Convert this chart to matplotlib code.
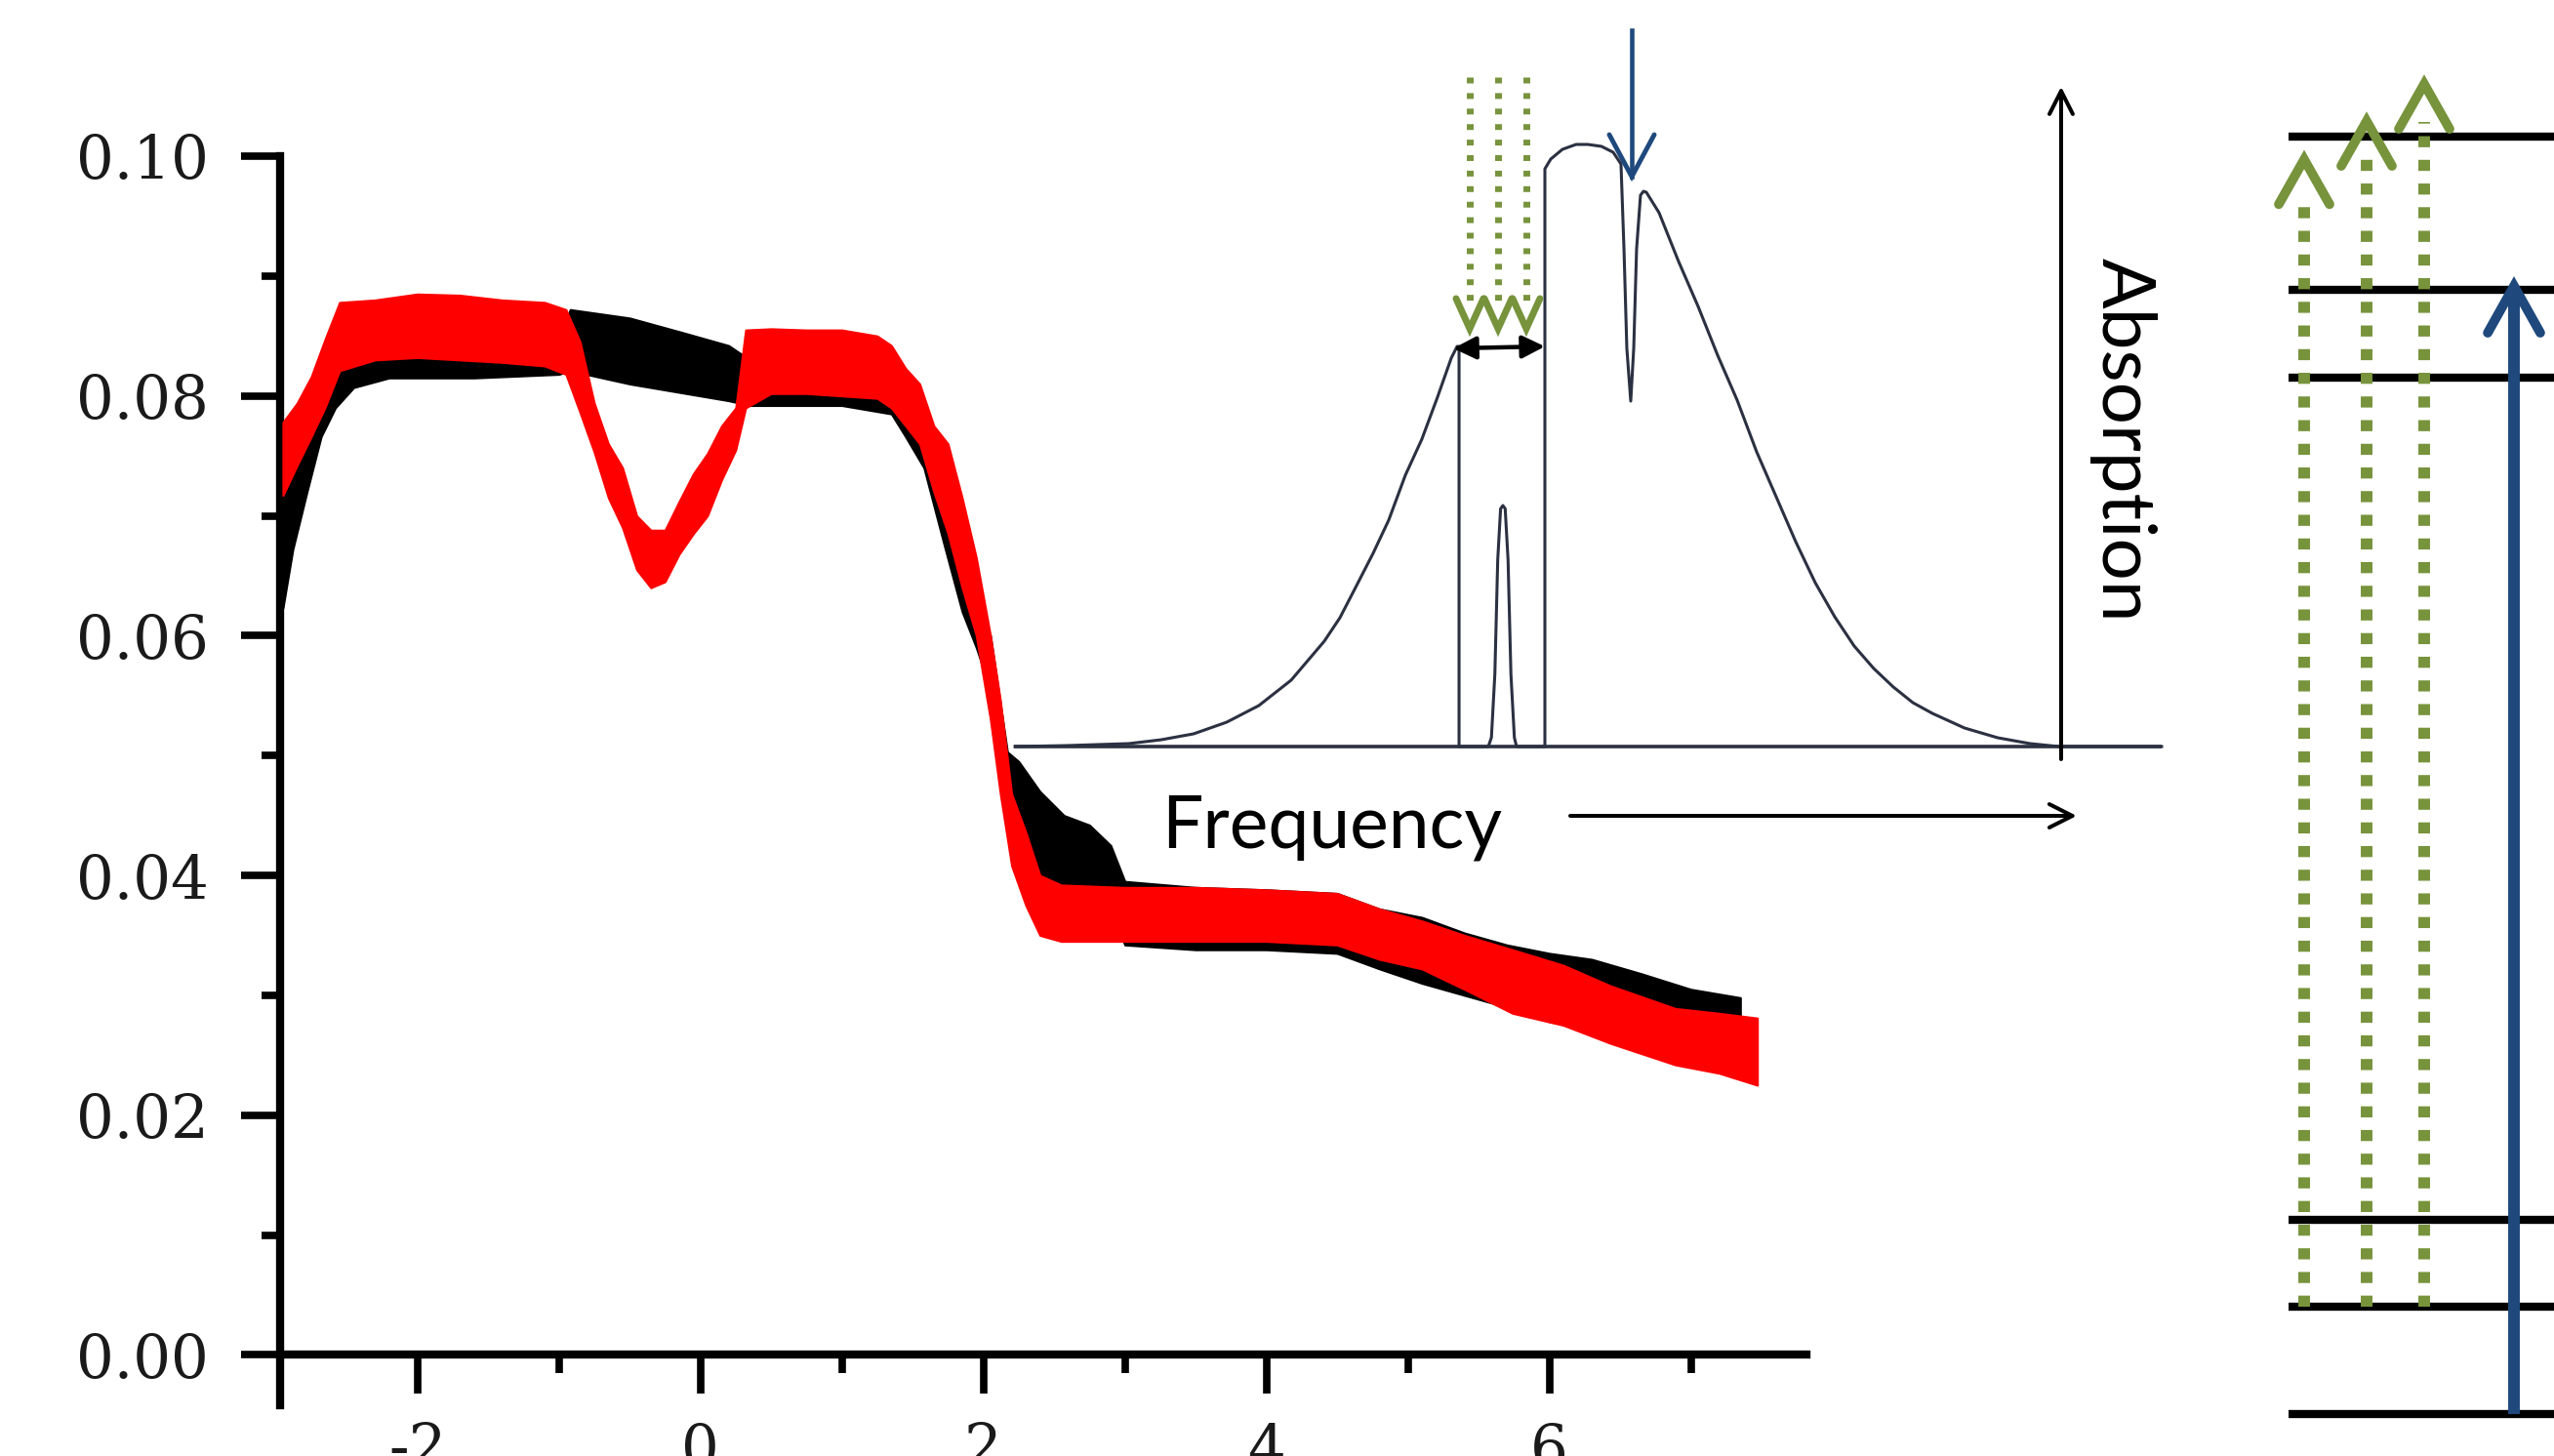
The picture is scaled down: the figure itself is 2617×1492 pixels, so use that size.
import numpy as np
import matplotlib.pyplot as plt
from matplotlib.ticker import FixedLocator

plt.rcParams['axes.unicode_minus'] = False

# ---- main transmission traces: lower / upper edge of each noisy band ----
black_x = [-2.95, -2.88, -2.78, -2.68, -2.58, -2.45, -2.20, -1.60, -1.00, -0.92,
           -0.50, -0.10, 0.20, 0.35, 1.00, 1.35, 1.45, 1.58, 1.72, 1.85,
           1.95, 2.05, 2.17, 2.25, 2.40, 2.57, 2.75, 2.90, 3.00, 3.50,
           4.00, 4.50, 4.80, 5.10, 5.40, 5.70, 6.00, 6.30, 6.65, 7.00, 7.35]
black_lo = [0.0623, 0.0672, 0.0720, 0.0766, 0.0790, 0.0807, 0.0815, 0.0815, 0.0818, 0.0821,
            0.0810, 0.0802, 0.0796, 0.0792, 0.0792, 0.0785, 0.0766, 0.0740, 0.0677, 0.0620,
            0.0590, 0.0555, 0.0480, 0.0445, 0.0400, 0.0392, 0.0390, 0.0370, 0.0342, 0.0338,
            0.0338, 0.0335, 0.0322, 0.0310, 0.0300, 0.0290, 0.0278, 0.0272, 0.0276, 0.0280, 0.0280]
black_hi = [0.0712, 0.0742, 0.0770, 0.0795, 0.0812, 0.0837, 0.0842, 0.0845, 0.0848, 0.0872,
            0.0865, 0.0852, 0.0842, 0.0830, 0.0825, 0.0820, 0.0810, 0.0785, 0.0753, 0.0680,
            0.0630, 0.0600, 0.0503, 0.0495, 0.0470, 0.0450, 0.0442, 0.0425, 0.0395, 0.0390,
            0.0388, 0.0385, 0.0372, 0.0365, 0.0352, 0.0342, 0.0335, 0.0330, 0.0318, 0.0305, 0.0298]

red_x = [-2.95, -2.85, -2.75, -2.65, -2.55, -2.30, -2.00, -1.70, -1.40, -1.10,
         -0.95, -0.85, -0.75, -0.65, -0.55, -0.45, -0.35, -0.25, -0.15, -0.05,
         0.05, 0.15, 0.25, 0.32, 0.50, 0.75, 1.00, 1.25, 1.35, 1.45,
         1.55, 1.65, 1.75, 1.85, 1.95, 2.05, 2.12, 2.20, 2.30, 2.40,
         2.55, 3.00, 3.50, 4.00, 4.50, 4.80, 5.10, 5.40, 5.74, 6.10,
         6.43, 6.89, 7.20, 7.47]
red_lo = [0.0717, 0.0742, 0.0766, 0.0791, 0.0821, 0.0830, 0.0832, 0.0830, 0.0828, 0.0825,
          0.0818, 0.0786, 0.0753, 0.0715, 0.0690, 0.0655, 0.0640, 0.0645, 0.0668, 0.0685,
          0.0700, 0.0730, 0.0755, 0.0790, 0.0802, 0.0802, 0.0800, 0.0798, 0.0790, 0.0775,
          0.0760, 0.0720, 0.0685, 0.0640, 0.0600, 0.0530, 0.0468, 0.0408, 0.0375, 0.0350,
          0.0345, 0.0345, 0.0345, 0.0345, 0.0342, 0.0330, 0.0322, 0.0305, 0.0285, 0.0275,
          0.0260, 0.0242, 0.0235, 0.0225]
red_hi = [0.0778, 0.0794, 0.0816, 0.0848, 0.0878, 0.0880, 0.0885, 0.0884, 0.0880, 0.0878,
          0.0872, 0.0845, 0.0794, 0.0760, 0.0740, 0.0700, 0.0688, 0.0688, 0.0712, 0.0735,
          0.0752, 0.0775, 0.0790, 0.0855, 0.0856, 0.0855, 0.0855, 0.0850, 0.0842, 0.0823,
          0.0810, 0.0775, 0.0760, 0.0715, 0.0665, 0.0600, 0.0546, 0.0468, 0.0436, 0.0400,
          0.0392, 0.0390, 0.0390, 0.0388, 0.0385, 0.0372, 0.0362, 0.0350, 0.0338, 0.0325,
          0.0308, 0.0289, 0.0285, 0.0281]

x_major = [-2, 0, 2, 4, 6]
x_minor = [-1, 1, 3, 5, 7]
y_major = [0.00, 0.02, 0.04, 0.06, 0.08, 0.10]
y_minor = [0.01, 0.03, 0.05, 0.07, 0.09]
y_labels = ['0.00', '0.02', '0.04', '0.06', '0.08', '0.10']

# ---- inset: absorption profile with burnt holes (arbitrary units) ----
profile_f = [0.0009, 0.0459, 0.1003, 0.1284, 0.1565, 0.1854, 0.2134, 0.2415, 0.2704, 0.2840,
             0.2985, 0.3129, 0.3265, 0.3410, 0.3554, 0.3690, 0.3810, 0.3861, 0.3878, 0.3878,
             0.4133, 0.4160, 0.4190, 0.4215, 0.4240, 0.4260, 0.4280, 0.4305, 0.4330, 0.4360,
             0.4379, 0.4626, 0.4626, 0.4677, 0.4779, 0.4898, 0.5000, 0.5119, 0.5221, 0.5289,
             0.5315, 0.5340, 0.5374, 0.5400, 0.5425, 0.5459, 0.5485, 0.5510, 0.5621, 0.5791,
             0.5961, 0.6131, 0.6301, 0.6471, 0.6641, 0.6811, 0.6981, 0.7151, 0.7321, 0.7491,
             0.7662, 0.7832, 0.8002, 0.8282, 0.8571, 0.8852, 0.9107, 1.0]
profile_a = [0.0, 0.0016, 0.0049, 0.0113, 0.0211, 0.0405, 0.0681, 0.1102, 0.1750, 0.2139,
             0.2674, 0.3209, 0.3760, 0.4506, 0.5105, 0.5802, 0.6451, 0.6645, 0.6645, 0.0,
             0.0, 0.0150, 0.1200, 0.3100, 0.3950, 0.4003, 0.3950, 0.3100, 0.1200, 0.0150,
             0.0, 0.0, 0.9595, 0.9757, 0.9919, 1.0, 1.0, 0.9968, 0.9870, 0.9676,
             0.8266, 0.6613, 0.5737, 0.6613, 0.8266, 0.9157, 0.9222, 0.9206, 0.8865, 0.8055,
             0.7310, 0.6499, 0.5754, 0.4895, 0.4149, 0.3404, 0.2723, 0.2156, 0.1669, 0.1297,
             0.0989, 0.0729, 0.0551, 0.0308, 0.0146, 0.0049, 0.0, 0.0]
burn_f = [0.3971, 0.4218, 0.4464]      # green burning lasers
burn_from, burn_to = 1.112, 0.694
probe_f, probe_from, probe_to = 0.5383, 1.19, 0.9465
gap_f = [0.3828, 0.4626]
gap_a = [0.6613, 0.6645]
absorb_axis_f, absorb_axis_a = 0.9124, [-0.021, 1.096]
freq_axis_f, freq_axis_a = [0.4847, 0.9260], -0.1151

# ---- energy level diagram ----
levels = [0.0, 0.84, 1.52, 8.11, 8.80, 10.0]
green_x = [0.0588, 0.2941, 0.5110]
green_from = 0.84
green_tip = [9.82, 10.12, 10.41]
blue_x, blue_from, blue_tip = 0.8493, 0.0, 8.83

GREEN = '#77933C'
BLUE = '#1F497D'
W, H = 2617, 1492

fig = plt.figure(figsize=(W / 100, H / 100), dpi=100)

# main plot
ax = fig.add_axes([287 / W, 1 - 1440 / H, (1851 - 287) / W, (1440 - 160) / H])
ax.fill_between(black_x, black_lo, black_hi, color='black', lw=1.5, zorder=2)
ax.fill_between(red_x, red_lo, red_hi, color='#ff0000', lw=1.5, zorder=3)
ax.set_xlim(-2.97, 7.817)
ax.set_ylim(-0.0042, 0.10)
for s in ['top', 'right']:
    ax.spines[s].set_visible(False)
ax.spines['bottom'].set_position(('data', 0))
ax.spines['bottom'].set_linewidth(6)
ax.spines['left'].set_linewidth(6)
ax.xaxis.set_major_locator(FixedLocator(x_major))
ax.xaxis.set_minor_locator(FixedLocator(x_minor))
ax.yaxis.set_major_locator(FixedLocator(y_major))
ax.yaxis.set_minor_locator(FixedLocator(y_minor))
ax.set_yticklabels(y_labels)
ax.tick_params(which='major', direction='out', length=29, width=5.5)
ax.tick_params(which='minor', direction='out', length=14, width=5.5)
ax.tick_params(axis='y', which='major', pad=24)
ax.tick_params(axis='x', which='major', pad=20)
for lab in ax.get_xticklabels() + ax.get_yticklabels():
    lab.set_fontfamily('DejaVu Serif')
    lab.set_fontsize(44)
    lab.set_color('#1a1a1a')
ax.patch.set_visible(False)

# inset
ins = fig.add_axes([1000 / W, 1 - 880 / H, 1300 / W, 880 / H])
ins.set_xlim(-0.03316, 1.0723)
ins.set_ylim(-0.1864, 1.2399)
ins.axis('off')
ins.plot([0, 1], [0, 0], color='#2b3141', lw=2.6, solid_capstyle='butt')
ins.plot(profile_f, profile_a, color='#2b3141', lw=2.2)
ghw, ghh = 0.0119, 0.050
for f in burn_f:
    ins.plot([f, f], [burn_from, burn_to + ghh * 0.9], color=GREEN, lw=5,
             dashes=(0.86, 1.43), solid_capstyle='butt')
    ins.plot([f - ghw, f, f + ghw], [burn_to + ghh, burn_to, burn_to + ghh],
             color=GREEN, lw=5, solid_capstyle='round', solid_joinstyle='miter')
ins.plot([probe_f, probe_f], [probe_from, probe_to], color=BLUE, lw=3.3)
ins.plot([probe_f - 0.0196, probe_f, probe_f + 0.0196],
         [probe_to + 0.0697, probe_to, probe_to + 0.0697],
         color=BLUE, lw=3.5, solid_capstyle='round', solid_joinstyle='miter')
ins.annotate('', xy=(gap_f[1], gap_a[1]), xytext=(gap_f[0], gap_a[0]),
             arrowprops=dict(arrowstyle='<|-|>, head_length=14, head_width=7',
                             mutation_scale=1, lw=3.2, color='black',
                             shrinkA=0, shrinkB=0))
ins.annotate('', xy=(absorb_axis_f, absorb_axis_a[1]),
             xytext=(absorb_axis_f, absorb_axis_a[0]),
             arrowprops=dict(arrowstyle='->, head_length=17, head_width=8.6',
                             mutation_scale=1, lw=2.9, color='black',
                             shrinkA=0, shrinkB=0))
ins.annotate('', xy=(freq_axis_f[1], freq_axis_a), xytext=(freq_axis_f[0], freq_axis_a),
             arrowprops=dict(arrowstyle='->, head_length=17, head_width=8.6',
                             mutation_scale=1, lw=2.9, color='black',
                             shrinkA=0, shrinkB=0))
ins.text(0.2772, -0.167, 'Frequency', family='Lato', fontsize=54,
         ha='center', va='baseline', color='black')
ins.text(0.966, 0.509, 'Absorption', family='Lato', fontsize=55,
         ha='center', va='center', rotation=-90, color='black')

# energy level diagram
en = fig.add_axes([2320 / W, 0, 297 / W, 1])
en.set_xlim(-0.0919, 1.0)
en.set_ylim(-0.3285, 11.068)
en.axis('off')
for e in levels:
    en.plot([0, 1.05], [e, e], color='black', lw=6, solid_capstyle='butt', clip_on=False)
for xg, tip in zip(green_x, green_tip):
    en.plot([xg, xg], [green_from, tip - 0.3], color=GREEN, lw=8.6,
            dashes=(0.95, 1.08), solid_capstyle='butt')
    en.plot([xg - 0.0956, xg, xg + 0.0956], [tip - 0.351, tip, tip - 0.351],
            color=GREEN, lw=7, solid_capstyle='round', solid_joinstyle='miter')
en.plot([blue_x, blue_x], [blue_from, blue_tip - 0.05], color=BLUE, lw=8.6,
        solid_capstyle='butt')
en.plot([blue_x - 0.099, blue_x, blue_x + 0.099], [blue_tip - 0.367, blue_tip, blue_tip - 0.367],
        color=BLUE, lw=7, solid_capstyle='round', solid_joinstyle='miter')

fig.savefig('out.png', dpi=100)
